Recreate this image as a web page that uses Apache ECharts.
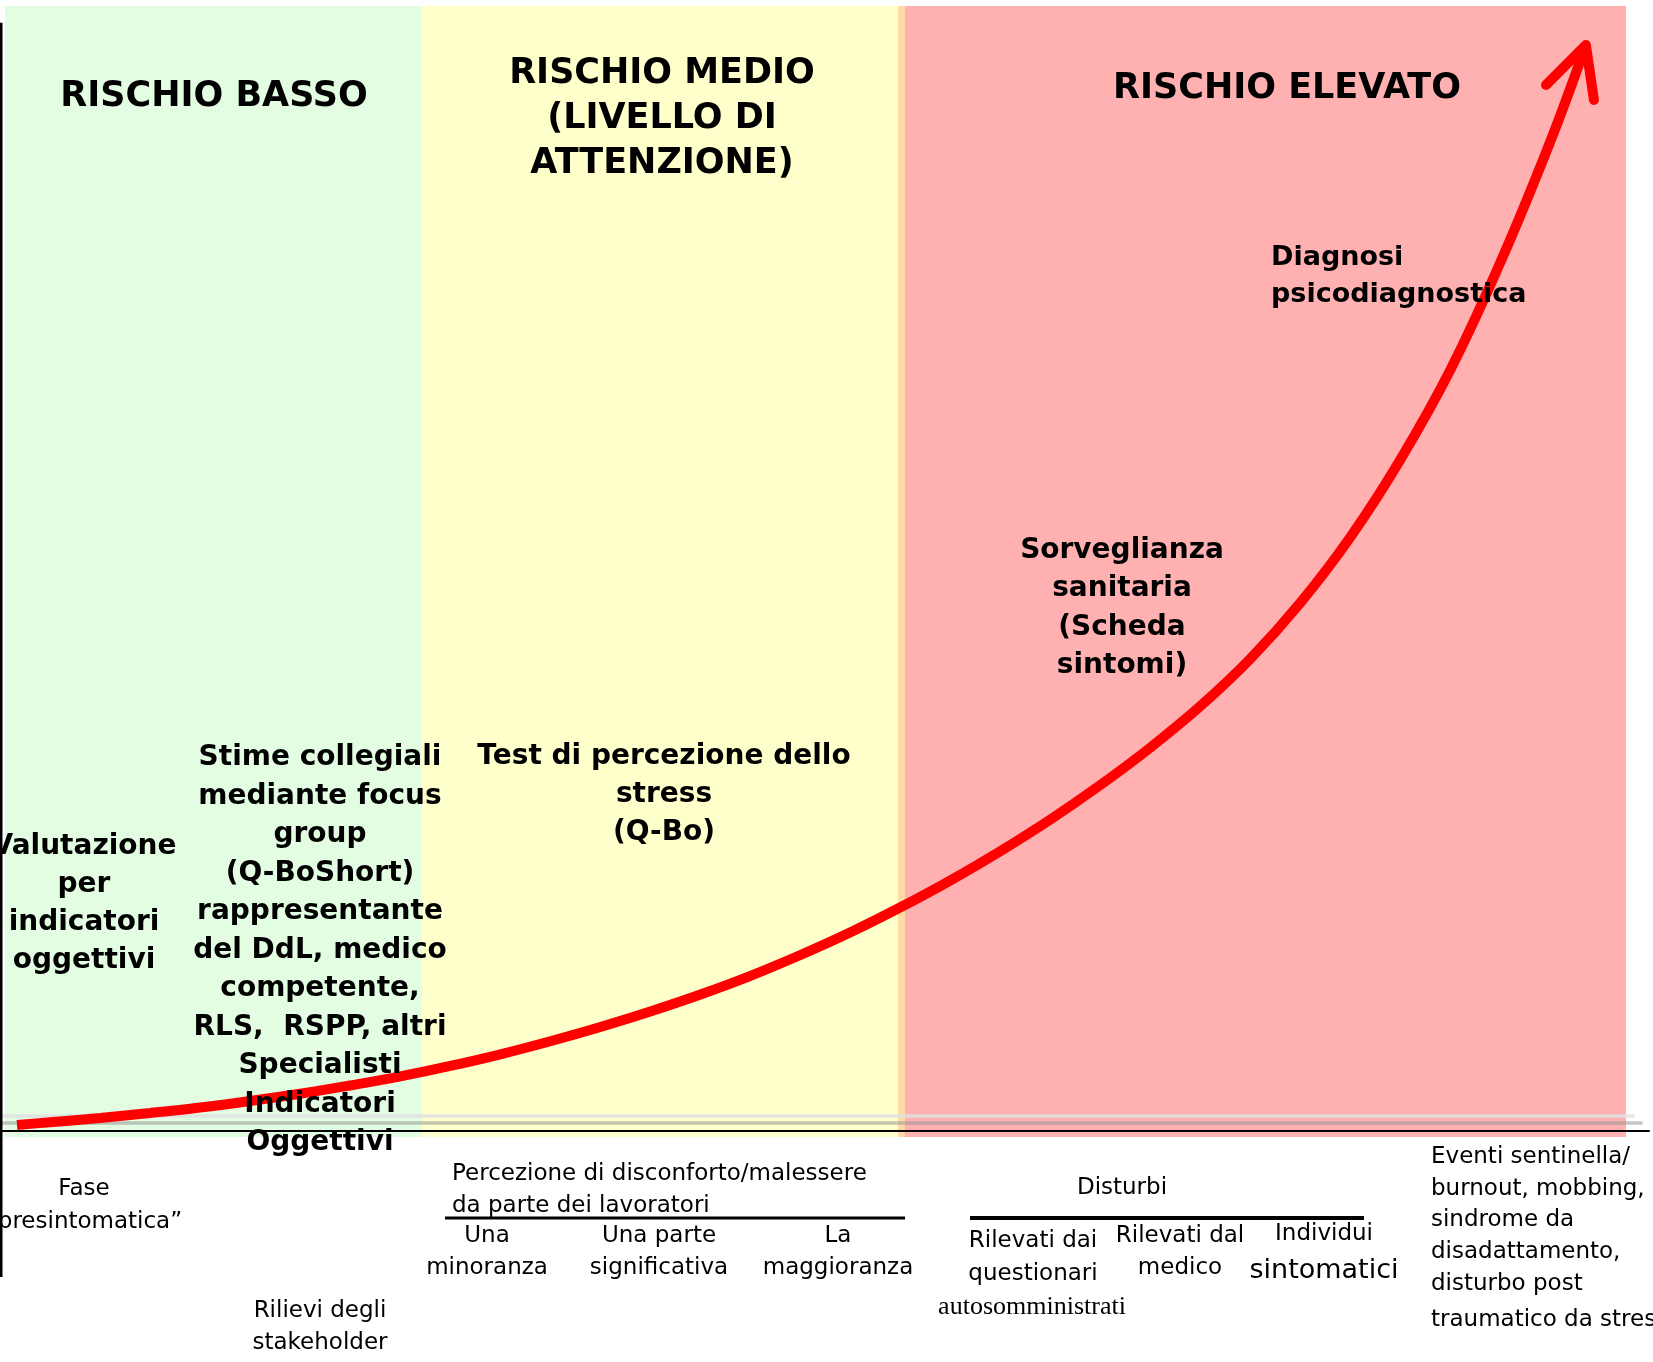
<!DOCTYPE html>
<html>
<head>
<meta charset="utf-8">
<title>Livelli di rischio stress lavoro-correlato</title>
<script src="https://cdn.jsdelivr.net/npm/echarts@6/dist/echarts.min.js"></script>
<style>
  html, body { margin: 0; padding: 0; background: #fff; }
  #main { width: 1653px; height: 1362px; }
</style>
</head>
<body>
<div id="main"></div>
<script>
// curva del rischio: x = progressione, y = livello di rischio (0..100)
var progress = [0.97, 2.98, 6.01, 9.05, 12.08, 15.12, 18.15, 21.19, 24.23, 27.26, 30.30,
                33.33, 36.37, 39.40, 42.44, 45.48, 48.51, 51.55, 54.58, 57.62, 60.66,
                63.69, 66.73, 69.76, 72.80, 75.84, 78.87, 81.91, 84.94, 87.98, 91.01,
                94.05, 96.17];
var risk = [0.52, 0.76, 1.14, 1.58, 2.07, 2.65, 3.29, 4.03, 4.83, 5.76, 6.80,
            7.96, 9.23, 10.61, 12.12, 13.78, 15.63, 17.65, 19.87, 22.27, 24.88,
            27.69, 30.76, 34.09, 37.78, 42.01, 46.99, 52.85, 59.74, 67.75, 77.30,
            88.10, 96.53];

// punta della freccia
var arrowX = [93.75, 96.17, 96.66];
var arrowY = [92.97, 96.53, 91.65];

// fasce di rischio (basso, medio, bordo, elevato)
var bandFrom = [0.24, 25.55, 54.43, 54.85];
var bandTo = [25.55, 54.43, 54.85, 98.6];
var bandTop = 100;
var bandBottom = -0.55;

// linee d'ombra sotto l'asse
var shadowLevel = [1.31, 0.69];
var shadowEnd = [99.1, 99.6];

// asse verticale
var vAxisFrom = -13;
var vAxisTo = 98.5;

var bandColors = ['#E3FDE3', '#FFFFCC', '#FFDBA3', '#FFB0B0'];
var shadowColors = ['rgba(225,225,225,0.85)', 'rgba(150,150,150,0.55)'];

var SANS = '"DejaVu Sans"';
var SERIF = '"Liberation Serif"';

function txt(str, x, y, size, opt){
    opt = opt || {};
    var al = opt.align || 'center';
    return {
        type: 'text',
        x: x,
        y: y,
        z: 100,
        silent: true,
        style: {
            text: str,
            fill: '#000',
            font: (opt.bold ? 'bold ' : '') + size + 'px ' + (opt.family || SANS),
            textAlign: al,
            align: al,
            textVerticalAlign: 'top',
            verticalAlign: 'top',
            lineHeight: opt.lh || Math.round(size * 1.35)
        }
    };
}

function rule(x1, x2, y, w){
    return {
        type: 'line', z: 100, silent: true,
        shape: {x1: x1, y1: y, x2: x2, y2: y},
        style: {stroke: '#000', lineWidth: w}
    };
}

var chart = echarts.init(document.getElementById('main'));

var curveData = progress.map(function(x, i){ return [x, risk[i]]; });
var arrowData = arrowX.map(function(x, i){ return [x, arrowY[i]]; });
var bandData = bandFrom.map(function(x, i){ return [x, bandTo[i]]; });

var option = {
    backgroundColor: '#fff',
    animation: false,
    grid: {left: 1, right: 4, top: 6, bottom: 85, containLabel: false},
    xAxis: {
        type: 'value', min: 0, max: 100, z: 10,
        axisLine: {show: true, onZero: true, lineStyle: {color: '#000', width: 2}},
        axisTick: {show: false}, axisLabel: {show: false}, splitLine: {show: false}
    },
    yAxis: {
        type: 'value', min: -13, max: 100,
        axisLine: {show: false}, axisTick: {show: false},
        axisLabel: {show: false}, splitLine: {show: false}
    },
    series: [
        {
            type: 'custom', name: 'fasce', z: 1, silent: true,
            data: bandData,
            encode: {x: [0, 1]},
            renderItem: function(params, api){
                var p0 = api.coord([api.value(0), bandTop]);
                var p1 = api.coord([api.value(1), bandBottom]);
                return {
                    type: 'rect',
                    shape: {x: p0[0], y: p0[1], width: p1[0] - p0[0], height: p1[1] - p0[1]},
                    style: {fill: bandColors[params.dataIndex]}
                };
            }
        },
        {
            type: 'line', name: 'ombra chiara', z: 2, silent: true, symbol: 'none',
            data: [[0, shadowLevel[0]], [shadowEnd[0], shadowLevel[0]]],
            lineStyle: {color: shadowColors[0], width: 3.5}
        },
        {
            type: 'line', name: 'ombra scura', z: 2, silent: true, symbol: 'none',
            data: [[0, shadowLevel[1]], [shadowEnd[1], shadowLevel[1]]],
            lineStyle: {color: shadowColors[1], width: 3.5}
        },
        {
            type: 'line', name: 'asse verticale', z: 3, silent: true, symbol: 'none',
            data: [[0, vAxisFrom], [0, vAxisTo]],
            lineStyle: {color: '#000', width: 3}
        },
        {
            type: 'line', name: 'rischio', z: 5, silent: true, symbol: 'none',
            smooth: 0.4,
            data: curveData,
            lineStyle: {color: '#FF0000', width: 10, cap: 'butt'}
        },
        {
            type: 'line', name: 'freccia', z: 5, silent: true, symbol: 'none',
            data: arrowData,
            lineStyle: {color: '#FF0000', width: 10, cap: 'round', join: 'round'}
        }
    ],
    graphic: [
        // titoli delle fasce
        txt('RISCHIO BASSO', 214, 75, 35, {bold: true, lh: 44}),
        txt('RISCHIO MEDIO\n(LIVELLO DI\nATTENZIONE)', 662, 51.5, 35, {bold: true, lh: 45}),
        txt('RISCHIO ELEVATO', 1287, 67, 35, {bold: true, lh: 44}),

        // strumenti
        txt('Diagnosi\npsicodiagnostica', 1271, 239, 27, {bold: true, lh: 37, align: 'left'}),
        txt('Sorveglianza\nsanitaria\n(Scheda\nsintomi)', 1122, 531.5, 28, {bold: true, lh: 38.3}),
        txt('Test di percezione dello\nstress\n(Q-Bo)', 664, 737.5, 28, {bold: true, lh: 38}),
        txt('Valutazione\nper\nindicatori\noggettivi', 84, 828, 28, {bold: true, lh: 38}),
        txt('Stime collegiali\nmediante focus\ngroup\n(Q-BoShort)\nrappresentante\ndel DdL, medico\ncompetente,\nRLS,  RSPP, altri\nSpecialisti\nIndicatori\nOggettivi',
            320, 738.5, 28, {bold: true, lh: 38.5}),

        // fasi sotto l'asse
        txt('Fase\n\u201cpresintomatica\u201d', 84, 1172.5, 23, {lh: 33}),
        txt('Rilievi degli\nstakeholder', 320, 1295.5, 23, {lh: 32}),
        txt('Percezione di disconforto/malessere\nda parte dei lavoratori', 452, 1158, 23, {lh: 32, align: 'left'}),
        rule(445, 905, 1218, 3),
        txt('Una\nminoranza', 487, 1220.5, 23, {lh: 32}),
        txt('Una parte\nsignificativa', 659, 1220.5, 23, {lh: 32}),
        txt('La\nmaggioranza', 838, 1220.5, 23, {lh: 32}),

        txt('Disturbi', 1122, 1172, 23, {lh: 32}),
        rule(970, 1364, 1218, 4),
        txt('Rilevati dai\nquestionari', 1033, 1225, 23, {lh: 33}),
        txt('autosomministrati', 1032, 1292, 26, {lh: 30, family: SERIF}),
        txt('Rilevati dal\nmedico', 1180, 1220.5, 23, {lh: 32}),
        txt('Individui', 1324, 1218.5, 23, {lh: 32}),
        txt('sintomatici', 1324, 1253.5, 27, {lh: 34}),

        txt('Eventi sentinella/\nburnout, mobbing,\nsindrome da\ndisadattamento,\ndisturbo post', 1431, 1141, 23, {lh: 31.8, align: 'left'}),
        txt('traumatico da stress', 1431, 1304.5, 23, {lh: 32, align: 'left'})
    ]
};

chart.setOption(option);
</script>
</body>
</html>
